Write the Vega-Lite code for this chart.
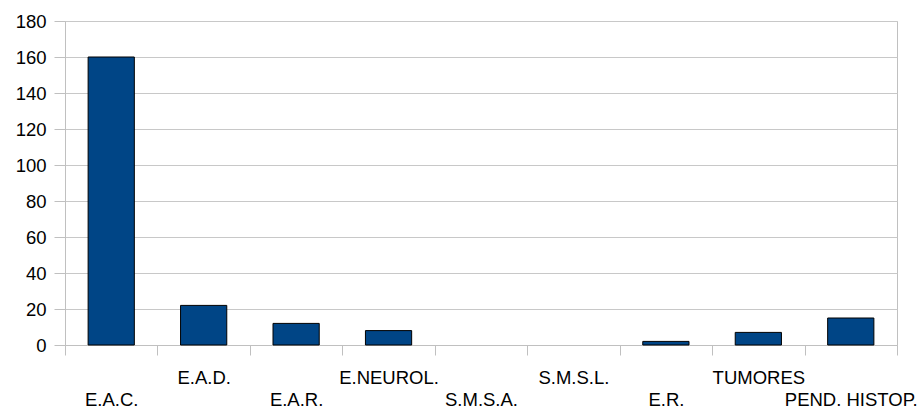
{
  "$schema": "https://vega.github.io/schema/vega-lite/v6.json",
  "width": 832,
  "height": 324,
  "autosize": "none",
  "padding": {"left": 65, "top": 21, "right": 25, "bottom": 63},
  "background": "#ffffff",
  "config": {
    "view": {"stroke": "#c0c0c0", "strokeWidth": 1},
    "font": "Liberation Sans",
    "axis": {"labelFont": "Liberation Sans", "labelColor": "#000000", "labelFontSize": 18.5}
  },
  "data": {
    "values": [
      {"categoria": "E.A.C.", "valor": 160},
      {"categoria": "E.A.D.", "valor": 22},
      {"categoria": "E.A.R.", "valor": 12},
      {"categoria": "E.NEUROL.", "valor": 8},
      {"categoria": "S.M.S.A.", "valor": 0},
      {"categoria": "S.M.S.L.", "valor": 0},
      {"categoria": "E.R.", "valor": 2},
      {"categoria": "TUMORES", "valor": 7},
      {"categoria": "PEND. HISTOP.", "valor": 15}
    ]
  },
  "mark": {"type": "bar", "color": "#004586", "strokeWidth": 1, "width": {"band": 0.5}},
  "encoding": {
    "x": {
      "field": "categoria",
      "type": "nominal",
      "sort": null,
      "scale": {"paddingInner": 0, "paddingOuter": 0},
      "axis": {
        "title": null,
        "labelAngle": 0,
        "tickBand": "extent",
        "tickSize": 10,
        "tickColor": "#c0c0c0",
        "domainColor": "#c0c0c0",
        "grid": false,
        "labelPadding": 13,
        "labelLineHeight": 22,
        "labelBaseline": "top",
        "labelOverlap": false,
        "labelLimit": 300,
        "labelExpr": "indexof(['E.A.C.','E.A.R.','S.M.S.A.','E.R.','PEND. HISTOP.'], datum.value) >= 0 ? ['', datum.label] : datum.label"
      }
    },
    "y": {
      "field": "valor",
      "type": "quantitative",
      "scale": {"domain": [0, 180], "nice": false},
      "axis": {
        "title": null,
        "values": [0, 20, 40, 60, 80, 100, 120, 140, 160, 180],
        "tickSize": 11,
        "tickColor": "#c0c0c0",
        "domainColor": "#c0c0c0",
        "gridColor": "#c8c8c8",
        "labelPadding": 8
      }
    },
    "stroke": {
      "condition": {"test": "datum.valor === 0", "value": null},
      "value": "#000000"
    }
  }
}
